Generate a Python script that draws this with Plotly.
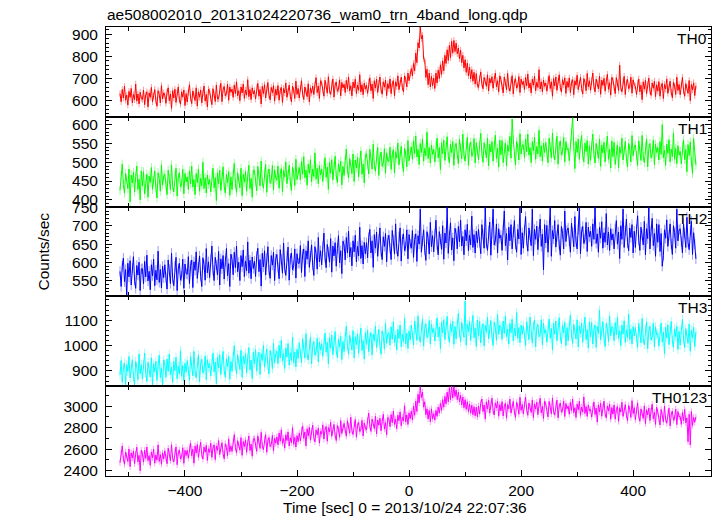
import numpy as np
import plotly.graph_objects as go

# ---- data (2 s bins) ----
t = np.arange(-516, 513, 2)

th0 = [
    632, 595, 650, 612, 665, 602, 625, 580, 642, 615, 655, 590, 628, 605, 675, 598, 630, 585, 638, 610,
    605, 648, 582, 626, 640, 572, 635, 615, 660, 595, 622, 650, 600, 575, 645, 628, 590, 668, 608, 635,
    625, 588, 638, 658, 600, 630, 565, 645, 612, 652, 592, 634, 662, 604, 584, 640, 616, 648, 578, 632,
    594, 638, 672, 612, 587, 644, 626, 600, 658, 576, 640, 616, 648, 590, 634, 666, 598, 628, 572, 652,
    642, 610, 582, 654, 630, 596, 670, 608, 608, 656, 678, 596, 650, 664, 622, 632, 674, 602, 662, 638,
    652, 615, 670, 632, 685, 622, 645, 600, 662, 635, 675, 610, 648, 625, 695, 618, 650, 605, 658, 630,
    645, 608, 658, 678, 620, 650, 585, 665, 632, 672, 612, 654, 682, 624, 604, 660, 636, 668, 598, 652,
    625, 668, 602, 646, 660, 592, 655, 635, 680, 615, 642, 670, 620, 595, 665, 648, 610, 688, 628, 655,
    612, 656, 690, 630, 605, 662, 644, 618, 676, 594, 658, 634, 666, 628, 672, 704, 636, 666, 610, 690,
    680, 648, 620, 692, 668, 634, 708, 646, 628, 676, 698, 616, 670, 684, 642, 652, 694, 622, 682, 658,
    674, 637, 692, 654, 707, 644, 667, 622, 684, 657, 697, 632, 670, 647, 717, 640, 672, 627, 680, 652,
    670, 633, 683, 703, 645, 675, 610, 690, 657, 697, 637, 679, 707, 649, 629, 685, 661, 693, 623, 677,
    655, 698, 632, 676, 690, 622, 685, 665, 712, 650, 678, 706, 660, 640, 712, 695, 662, 725, 690, 720,
    745, 712, 768, 735, 815, 772, 862, 838, 935, 880, 895, 790, 782, 705, 742, 672, 725, 662, 710, 668,
    702, 655, 725, 680, 738, 700, 762, 718, 780, 735, 805, 768, 830, 782, 850, 795, 868, 815, 872, 822,
    860, 812, 838, 790, 828, 772, 805, 748, 785, 728, 770, 712, 752, 698, 740, 688, 728, 675, 722, 670,
    660, 699, 730, 676, 654, 705, 689, 665, 717, 644, 701, 680, 708, 656, 696, 725, 663, 690, 640, 712,
    695, 663, 635, 707, 683, 649, 723, 661, 643, 691, 713, 631, 685, 699, 657, 667, 709, 637, 697, 673,
    687, 650, 705, 667, 720, 657, 680, 635, 697, 670, 710, 645, 683, 660, 740, 653, 685, 640, 693, 665,
    680, 643, 693, 713, 655, 685, 620, 700, 667, 707, 647, 689, 717, 659, 639, 695, 671, 703, 633, 687,
    660, 703, 637, 681, 695, 627, 690, 670, 715, 650, 677, 705, 655, 630, 700, 683, 645, 723, 663, 690,
    647, 691, 725, 665, 640, 697, 679, 653, 711, 629, 693, 669, 701, 643, 687, 719, 651, 681, 625, 705,
    692, 660, 632, 704, 680, 646, 760, 658, 640, 688, 710, 628, 682, 696, 654, 664, 706, 634, 694, 670,
    665, 628, 678, 698, 640, 670, 605, 685, 652, 692, 632, 674, 702, 644, 624, 680, 656, 688, 618, 672,
    643, 686, 620, 664, 678, 610, 673, 653, 698, 633, 660, 688, 638, 613, 683, 666, 628, 706, 646, 673,
    627, 671, 705, 645, 620, 677, 659, 633, 691, 600, 673, 649, 681, 623, 667,
]

th1 = [
    425, 464, 495, 441, 418, 470, 454, 430, 482, 395, 466, 445, 473, 421, 461, 490, 428, 455, 400, 477,
    437, 475, 416, 455, 468, 407, 463, 446, 486, 428, 452, 477, 432, 405, 472, 457, 423, 493, 439, 463,
    468, 439, 414, 479, 457, 427, 493, 437, 421, 464, 484, 410, 459, 472, 434, 443, 481, 416, 470, 448,
    461, 428, 477, 443, 490, 434, 454, 414, 470, 446, 482, 423, 457, 437, 500, 430, 459, 418, 466, 441,
    454, 421, 466, 484, 432, 459, 398, 472, 443, 479, 425, 463, 488, 436, 418, 468, 446, 475, 412, 461,
    427, 466, 497, 443, 420, 472, 456, 432, 484, 411, 468, 447, 475, 423, 463, 492, 430, 457, 407, 479,
    478, 449, 424, 489, 467, 437, 503, 447, 431, 474, 494, 420, 469, 482, 444, 453, 491, 426, 480, 458,
    452, 490, 431, 470, 483, 422, 478, 461, 501, 443, 467, 492, 447, 425, 487, 472, 438, 508, 454, 478,
    486, 453, 502, 468, 515, 459, 479, 439, 495, 471, 507, 448, 482, 462, 525, 455, 484, 443, 491, 466,
    482, 449, 494, 512, 460, 487, 428, 500, 471, 507, 453, 491, 516, 464, 446, 496, 474, 503, 440, 489,
    465, 504, 535, 481, 458, 510, 494, 470, 522, 449, 506, 485, 513, 461, 501, 530, 468, 495, 445, 517,
    523, 494, 469, 534, 512, 482, 548, 492, 476, 519, 539, 465, 514, 527, 489, 498, 536, 471, 525, 503,
    502, 540, 481, 520, 533, 472, 528, 511, 551, 493, 517, 542, 497, 475, 537, 522, 488, 558, 504, 528,
    541, 508, 557, 523, 570, 514, 534, 494, 550, 526, 562, 503, 537, 517, 580, 510, 539, 498, 546, 521,
    534, 501, 546, 564, 512, 539, 480, 552, 523, 559, 505, 543, 568, 516, 498, 548, 526, 555, 492, 541,
    550, 521, 496, 561, 539, 509, 575, 519, 503, 546, 566, 492, 541, 554, 516, 525, 563, 498, 552, 530,
    507, 546, 577, 523, 500, 552, 536, 512, 564, 491, 548, 527, 555, 503, 543, 572, 510, 537, 487, 559,
    520, 558, 499, 538, 551, 490, 546, 529, 569, 511, 615, 560, 515, 493, 555, 540, 506, 576, 522, 546,
    546, 513, 562, 528, 575, 519, 539, 499, 555, 531, 567, 508, 542, 522, 585, 515, 544, 503, 551, 526,
    553, 524, 499, 564, 542, 512, 578, 522, 506, 549, 569, 495, 544, 557, 519, 528, 566, 501, 555, 533,
    537, 504, 549, 567, 618, 542, 483, 555, 526, 562, 508, 546, 571, 519, 501, 551, 529, 558, 495, 544,
    505, 544, 575, 521, 498, 550, 534, 510, 562, 489, 546, 525, 553, 501, 541, 570, 508, 535, 485, 557,
    515, 553, 494, 533, 546, 485, 541, 524, 564, 506, 530, 555, 510, 488, 550, 535, 501, 571, 517, 541,
    546, 517, 492, 557, 535, 505, 571, 515, 499, 542, 562, 488, 537, 550, 512, 521, 559, 494, 548, 526,
    539, 506, 555, 521, 600, 512, 532, 492, 548, 524, 560, 501, 535, 515, 578, 508, 537, 496, 544, 519,
    529, 496, 541, 559, 507, 534, 475, 547, 518, 554, 500, 470, 563, 511, 493,
]

th2 = [
    576, 535, 590, 612, 548, 581, 509, 598, 561, 605, 539, 585, 616, 552, 530, 592, 566, 601, 524, 583,
    583, 542, 603, 561, 620, 550, 576, 526, 594, 564, 609, 537, 579, 553, 631, 546, 581, 531, 590, 559,
    594, 559, 528, 607, 581, 543, 625, 557, 537, 590, 614, 524, 583, 598, 552, 563, 609, 530, 596, 570,
    568, 616, 543, 592, 607, 532, 602, 579, 629, 557, 587, 618, 563, 535, 613, 594, 552, 638, 572, 602,
    559, 608, 645, 579, 551, 614, 594, 566, 630, 539, 610, 583, 619, 555, 603, 638, 564, 597, 535, 623,
    608, 567, 628, 586, 645, 575, 601, 551, 619, 589, 634, 562, 604, 578, 656, 571, 606, 556, 615, 584,
    603, 562, 617, 639, 575, 608, 536, 625, 588, 632, 566, 612, 643, 579, 557, 619, 593, 628, 551, 610,
    622, 587, 556, 635, 609, 571, 653, 585, 565, 618, 642, 552, 611, 626, 580, 591, 637, 558, 624, 598,
    598, 646, 573, 622, 637, 562, 632, 609, 659, 587, 617, 648, 593, 565, 643, 624, 582, 668, 602, 632,
    594, 643, 680, 614, 586, 649, 629, 601, 665, 574, 645, 618, 654, 590, 638, 673, 599, 632, 570, 658,
    648, 607, 668, 626, 685, 615, 641, 591, 659, 629, 674, 602, 644, 618, 696, 611, 646, 596, 655, 624,
    654, 613, 668, 690, 626, 659, 587, 676, 639, 683, 617, 663, 694, 630, 608, 670, 644, 679, 602, 661,
    674, 639, 608, 687, 661, 623, 705, 637, 617, 670, 694, 604, 663, 678, 632, 643, 689, 610, 676, 650,
    639, 687, 614, 663, 678, 603, 673, 650, 745, 628, 658, 689, 634, 606, 684, 665, 623, 709, 643, 673,
    629, 678, 715, 649, 621, 684, 664, 636, 700, 609, 680, 653, 750, 625, 673, 708, 634, 667, 605, 693,
    678, 637, 698, 656, 715, 645, 671, 621, 689, 659, 704, 632, 674, 648, 726, 641, 676, 626, 685, 654,
    690, 655, 624, 703, 677, 639, 750, 653, 633, 686, 710, 620, 679, 745, 648, 659, 705, 626, 692, 666,
    674, 633, 688, 740, 646, 679, 607, 696, 659, 703, 637, 683, 714, 650, 628, 690, 664, 750, 622, 681,
    639, 688, 725, 659, 631, 694, 674, 646, 745, 619, 690, 663, 699, 635, 683, 718, 644, 677, 580, 703,
    653, 701, 628, 677, 750, 617, 687, 664, 714, 642, 672, 703, 648, 620, 698, 679, 637, 740, 657, 687,
    694, 659, 628, 707, 681, 643, 725, 657, 637, 690, 750, 624, 683, 698, 652, 663, 709, 630, 696, 670,
    685, 644, 705, 663, 750, 652, 678, 628, 696, 666, 711, 639, 681, 655, 733, 648, 683, 633, 692, 661,
    678, 637, 692, 714, 650, 683, 611, 700, 663, 745, 641, 687, 718, 654, 632, 694, 668, 703, 626, 685,
    641, 690, 727, 661, 633, 696, 676, 648, 712, 621, 692, 665, 750, 637, 685, 720, 646, 679, 617, 705,
    655, 703, 630, 679, 590, 619, 689, 666, 716, 644, 674, 705, 650, 622, 700, 681, 639, 745, 659, 689,
    692, 657, 626, 705, 679, 641, 723, 655, 635, 688, 712, 622, 681, 650, 610,
]

th3 = [
    885, 941, 856, 913, 931, 843, 925, 898, 957, 872, 908, 944, 879, 846, 938, 915, 866, 967, 889, 925,
    869, 926, 970, 892, 859, 934, 910, 876, 952, 845, 928, 897, 939, 863, 921, 962, 874, 913, 840, 944,
    924, 875, 947, 898, 967, 885, 915, 856, 937, 901, 954, 869, 918, 888, 980, 879, 921, 862, 931, 895,
    941, 899, 863, 957, 925, 881, 977, 897, 873, 936, 964, 858, 928, 946, 892, 905, 959, 866, 944, 912,
    929, 880, 945, 971, 896, 935, 850, 955, 912, 964, 886, 940, 977, 901, 875, 948, 917, 958, 867, 938,
    899, 956, 1000, 922, 889, 964, 940, 906, 982, 875, 958, 927, 969, 893, 951, 992, 904, 943, 870, 974,
    928, 984, 899, 956, 974, 886, 968, 941, 1000, 915, 951, 987, 922, 889, 981, 958, 909, 1010, 932, 968,
    978, 929, 1001, 952, 1021, 939, 969, 910, 991, 955, 1008, 923, 972, 942, 1034, 933, 975, 916, 985, 949,
    1011, 969, 933, 1027, 995, 951, 1047, 967, 943, 1006, 1034, 928, 998, 1016, 962, 975, 1029, 936, 1014, 982,
    1007, 958, 1023, 1049, 974, 1013, 928, 1033, 990, 1042, 964, 1018, 1055, 979, 953, 1026, 995, 1036, 945, 1016,
    976, 1033, 1077, 999, 966, 1041, 1017, 983, 1059, 952, 1035, 1004, 1046, 970, 1028, 1069, 981, 1020, 947, 1051,
    1005, 1061, 976, 1033, 1051, 963, 1045, 1018, 1077, 992, 1028, 1064, 999, 966, 1058, 1035, 986, 1087, 1009, 1045,
    1051, 1002, 1074, 1025, 1094, 1012, 1042, 983, 1064, 1028, 1081, 996, 1045, 1015, 1107, 1006, 1048, 989, 1058, 1022,
    1081, 1039, 1003, 1097, 1065, 1021, 1117, 1037, 1013, 1076, 1104, 998, 1068, 1086, 1032, 1045, 1099, 1006, 1084, 1052,
    1067, 1018, 1083, 1109, 1034, 1073, 988, 1093, 1050, 1102, 1024, 1078, 1115, 1039, 1013, 1086, 1055, 1096, 1005, 1076,
    1026, 1083, 1127, 1049, 1016, 1091, 1067, 1033, 1175, 1002, 1085, 1054, 1096, 1020, 1078, 1119, 1031, 1070, 997, 1101,
    1040, 1096, 1011, 1068, 1086, 998, 1080, 1053, 1112, 1027, 1063, 1099, 1034, 1001, 1093, 1070, 1021, 1122, 1044, 1080,
    1074, 1025, 1097, 1048, 1117, 1035, 1065, 1006, 1087, 1051, 1104, 1019, 1068, 1038, 1130, 1029, 1071, 1012, 1081, 1045,
    1078, 1042, 1000, 1094, 1062, 1024, 1112, 1040, 1010, 1079, 1101, 995, 1071, 1083, 1035, 1042, 1102, 1003, 1087, 1049,
    1062, 1013, 1078, 1104, 1029, 1068, 983, 1088, 1045, 1097, 1019, 1073, 1110, 1034, 1008, 1081, 1050, 1091, 1000, 1071,
    1019, 1076, 1120, 1042, 1009, 1084, 1060, 1026, 1102, 995, 1078, 1047, 1089, 1013, 1071, 1112, 1024, 1063, 990, 1094,
    1035, 1091, 1006, 1063, 1081, 993, 1075, 1048, 1140, 1022, 1058, 1094, 1029, 996, 1088, 1065, 1016, 1117, 1039, 1075,
    1068, 1019, 1091, 1042, 1111, 1029, 1059, 1000, 1081, 1045, 1098, 1013, 1062, 1032, 1124, 1023, 1065, 1006, 1075, 1039,
    1071, 1029, 993, 1087, 1055, 1011, 1107, 1027, 1003, 1066, 1094, 988, 1058, 1076, 1022, 1035, 1089, 996, 1074, 1042,
    1047, 998, 1063, 1089, 1014, 1053, 968, 1073, 1030, 1082, 1004, 1058, 1095, 1019, 993, 1066, 1035, 1076, 985, 1056,
    1002, 1059, 1103, 1025, 992, 1067, 1043, 1009, 1085, 978, 1061, 1030, 1072, 996, 1054,
]

th0123 = [
    2474, 2562, 2630, 2510, 2460, 2574, 2538, 2486, 2602, 2438, 2566, 2518, 2582, 2466, 2554, 2618, 2482, 2542, 2400, 2590,
    2554, 2480, 2590, 2514, 2620, 2494, 2540, 2450, 2574, 2520, 2600, 2470, 2546, 2500, 2640, 2486, 2550, 2460, 2566, 2510,
    2585, 2521, 2465, 2609, 2561, 2493, 2641, 2517, 2481, 2577, 2621, 2457, 2565, 2593, 2509, 2529, 2613, 2469, 2589, 2541,
    2590, 2516, 2616, 2656, 2540, 2600, 2470, 2630, 2564, 2644, 2524, 2608, 2664, 2548, 2508, 2620, 2572, 2636, 2496, 2604,
    2570, 2656, 2524, 2612, 2640, 2504, 2630, 2590, 2680, 2550, 2604, 2660, 2560, 2510, 2650, 2616, 2540, 2696, 2576, 2630,
    2579, 2667, 2735, 2615, 2565, 2679, 2643, 2591, 2707, 2543, 2671, 2623, 2687, 2571, 2659, 2723, 2587, 2647, 2535, 2695,
    2700, 2636, 2580, 2724, 2676, 2608, 2756, 2632, 2596, 2692, 2736, 2572, 2680, 2708, 2624, 2644, 2728, 2584, 2704, 2656,
    2714, 2640, 2750, 2674, 2780, 2654, 2700, 2610, 2734, 2680, 2760, 2630, 2706, 2660, 2800, 2646, 2710, 2620, 2726, 2670,
    2750, 2676, 2776, 2816, 2700, 2760, 2630, 2790, 2724, 2804, 2684, 2768, 2824, 2708, 2668, 2780, 2732, 2796, 2656, 2764,
    2740, 2826, 2694, 2782, 2810, 2674, 2800, 2760, 2850, 2720, 2774, 2830, 2730, 2680, 2820, 2786, 2710, 2866, 2746, 2800,
    2840, 2776, 2720, 2864, 2816, 2748, 2896, 2772, 2736, 2832, 2876, 2712, 2820, 2848, 2764, 2784, 2868, 2724, 2844, 2796,
    2779, 2867, 2935, 2815, 2765, 2879, 2843, 2791, 2907, 2743, 2871, 2823, 2887, 2771, 2859, 2923, 2787, 2847, 2735, 2895,
    2884, 2810, 2922, 2846, 2954, 2830, 2878, 2790, 2916, 2864, 2946, 2818, 2896, 2862, 3004, 2852, 2918, 2830, 2938, 2884,
    2955, 2870, 3000, 2915, 3045, 2950, 3110, 3030, 3180, 3080, 3130, 2990, 3040, 2920, 2975, 2880, 2960, 2855, 2975, 2880,
    2930, 2870, 2960, 2905, 2990, 2935, 3025, 2960, 3060, 2990, 3090, 3020, 3130, 3040, 3170, 3060, 3185, 3075, 3180, 3090,
    3150, 3060, 3130, 3040, 3100, 3010, 3085, 2985, 3060, 2970, 3040, 2950, 3020, 2935, 3010, 2920, 2995, 2910, 2990, 2900,
    3000, 2926, 3026, 3066, 2950, 3010, 2880, 3040, 2974, 3054, 2934, 3018, 3074, 2958, 2918, 3030, 2982, 3046, 2906, 3014,
    2955, 3041, 2909, 2997, 3025, 2889, 3015, 2975, 3065, 2935, 2989, 3045, 2945, 2895, 3035, 3001, 2925, 3081, 2961, 3015,
    2929, 3017, 3085, 2965, 2915, 3029, 2993, 2941, 3057, 2893, 3021, 2973, 3037, 2921, 3009, 3073, 2937, 2997, 2885, 3045,
    3020, 2956, 2900, 3044, 2996, 2928, 3076, 2952, 2916, 3012, 3056, 2892, 3000, 3028, 2944, 2964, 3048, 2904, 3024, 2976,
    2999, 2925, 3035, 2959, 3065, 2939, 2985, 2895, 3019, 2965, 3045, 2915, 2991, 2945, 3085, 2931, 2995, 2905, 3011, 2955,
    2972, 2898, 2998, 3038, 2922, 2982, 2852, 3012, 2946, 3026, 2906, 2990, 3046, 2930, 2890, 3002, 2954, 3018, 2878, 2986,
    2925, 3011, 2879, 2967, 2995, 2859, 2985, 2945, 3035, 2905, 2959, 3015, 2915, 2865, 3005, 2971, 2895, 3051, 2931, 2985,
    2874, 2962, 3030, 2910, 2860, 2974, 2938, 2886, 3002, 2838, 2966, 2918, 2982, 2866, 2954, 3018, 2882, 2942, 2830, 2990,
    2945, 2881, 2825, 2969, 2921, 2853, 3001, 2877, 2841, 2937, 2981, 2817, 2925, 2953, 2869, 2889, 2973, 2829, 2949, 2901,
    2904, 2830, 2940, 2864, 2970, 2844, 2890, 2670, 2924, 2640, 2950, 2820, 2896, 2850, 2900,
]

band_names = ["TH0", "TH1", "TH2", "TH3", "TH0123"]
band_errors = [15, 12, 14, 18, 30]

series = [th0, th1, th2, th3, th0123]
for s in series:
    assert len(s) == len(t), (len(s), len(t))

# ---- styling ----
colors = ["#ff0000", "#00ff00", "#0000ff", "#00ffff", "#ff00ff"]
err_colors = ["rgba(255,0,0,0.4)", "rgba(0,255,0,0.4)", "rgba(0,0,255,0.4)",
              "rgba(0,255,255,0.4)", "rgba(255,0,255,0.4)"]
yranges = [[527, 933], [382, 621], [508, 752], [840, 1194], [2351, 3185]]
ydticks = [100, 50, 50, 100, 200]
yminor = [20, 10, 10, 20, 100]

FONT = "Liberation Sans, Arial, Helvetica, sans-serif"
FS = 15.5
fig = go.Figure()
n = len(series)
gap = 1.0 / n
for k in range(n):
    ax = "" if k == 0 else str(k + 1)
    fig.add_trace(go.Scatter(
        x=t, y=series[k], mode="lines",
        line=dict(color=colors[k], width=1),
        error_y=dict(type="constant", value=band_errors[k], color=err_colors[k],
                     thickness=1, width=0),
        xaxis="x" + ax, yaxis="y" + ax, showlegend=False, hoverinfo="skip"))
    top = 1 - k * gap
    bot = 1 - (k + 1) * gap
    fig.layout["xaxis" + ax] = dict(
        domain=[0, 1], anchor="y" + ax, range=[-541, 539],
        matches=None if k == 0 else "x",
        showline=True, linecolor="black", linewidth=1, mirror="allticks",
        ticks="inside", ticklen=6, tickcolor="black", tickwidth=1,
        tick0=0, dtick=200,
        minor=dict(dtick=100, ticks="inside", ticklen=4, tickcolor="black"),
        showgrid=False, zeroline=False,
        showticklabels=(k == n - 1),
        tickfont=dict(family=FONT, size=FS, color="black"))
    fig.layout["yaxis" + ax] = dict(
        domain=[bot, top], anchor="x" + ax, range=yranges[k],
        showline=True, linecolor="black", linewidth=1, mirror="allticks",
        ticks="inside", ticklen=6, tickcolor="black", tickwidth=1,
        tick0=0, dtick=ydticks[k],
        minor=dict(dtick=yminor[k], ticks="inside", ticklen=3, tickcolor="black"),
        showgrid=False, zeroline=False, ticklabelstandoff=4,
        tickfont=dict(family=FONT, size=FS, color="black"))
    fig.add_annotation(text=band_names[k], xref="x" + ax + " domain", yref="y" + ax + " domain",
                       x=1, y=1, xanchor="right", yanchor="top", xshift=-2, yshift=-1,
                       showarrow=False, font=dict(family=FONT, size=FS, color="black"))

fig.add_annotation(text="ae508002010_20131024220736_wam0_trn_4band_long.qdp",
                   xref="paper", yref="paper", x=0, y=1, xanchor="left", yanchor="bottom",
                   xshift=-1, yshift=2, showarrow=False,
                   font=dict(family=FONT, size=FS, color="black"))
fig.add_annotation(text="Counts/sec", xref="paper", yref="paper", x=0, y=0.5,
                   xanchor="center", yanchor="middle", xshift=-63, textangle=-90,
                   showarrow=False, font=dict(family=FONT, size=FS, color="black"))
fig.add_annotation(text="Time [sec] 0 = 2013/10/24 22:07:36", xref="paper", yref="paper",
                   x=0.5, y=0, xanchor="center", yanchor="top", yshift=-21, xshift=-4,
                   showarrow=False, font=dict(family=FONT, size=FS, color="black"))

fig.update_layout(width=717, height=516, margin=dict(l=106, r=6, t=27, b=40),
                  paper_bgcolor="white", plot_bgcolor="white")
fig.write_html("out.html", config={"displayModeBar": False},
               post_script="document.body.style.margin='0';document.body.style.overflow='hidden';")
